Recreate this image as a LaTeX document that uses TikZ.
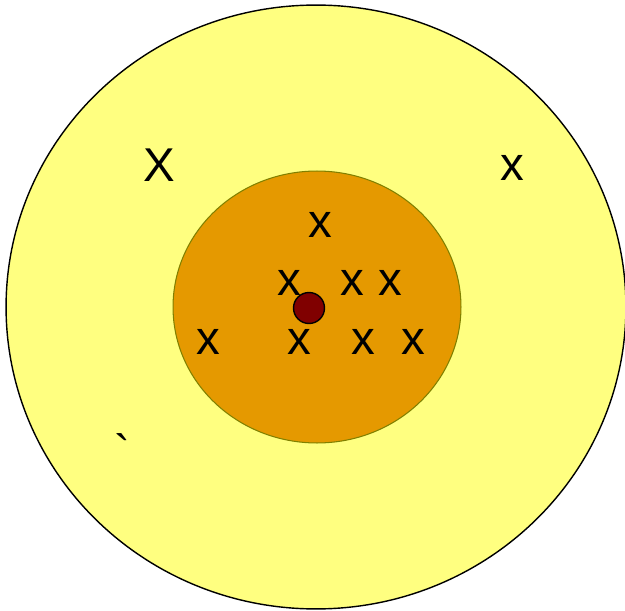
\documentclass[tikz,border=0pt]{standalone}
\usepackage{fontspec}
\setmainfont{Liberation Sans}
\usetikzlibrary{shapes.geometric}
\definecolor{pale}{RGB}{255,255,128}
\definecolor{amber}{RGB}{229,153,0}
\definecolor{rim}{RGB}{128,128,0}
\definecolor{kern}{RGB}{128,0,0}
\begin{document}
\begin{tikzpicture}
[x=.02cm,y=-.02cm,
 lbl/.style={inner sep=0,font=\fontsize{27}{30}\selectfont},
 ring/.style={ellipse,inner sep=0,outer sep=0}]
\useasboundingbox (0,0) rectangle (625,611);
\node[ring,draw=black,fill=pale,line width=.8pt,minimum width=12.4cm,minimum height=12.08cm] (outer) at (316,307) {};
\node[ring,draw=rim,fill=amber,line width=.6pt,minimum width=5.76cm,minimum height=5.44cm] (inner) at (317,307) {};
\node[lbl] (big) at (159,165) {X};
\node[lbl] (far) at (512,168) {x};
\node[lbl] (top) at (320,225) {x};
\node[lbl] (m1) at (289,283) {x};
\node[lbl] (m2) at (352,283) {x};
\node[lbl] (m3) at (390,283) {x};
\node[lbl] (b1) at (208,342) {x};
\node[lbl] (b2) at (299,342) {x};
\node[lbl] (b3) at (363,342) {x};
\node[lbl] (b4) at (413,342) {x};
\node[lbl,anchor=base] (tick) at (122,468) {\textasciigrave};
\node[circle,draw=black,fill=kern,line width=.8pt,inner sep=0,minimum size=.62cm] (core) at (309,308) {};
\end{tikzpicture}
\end{document}
